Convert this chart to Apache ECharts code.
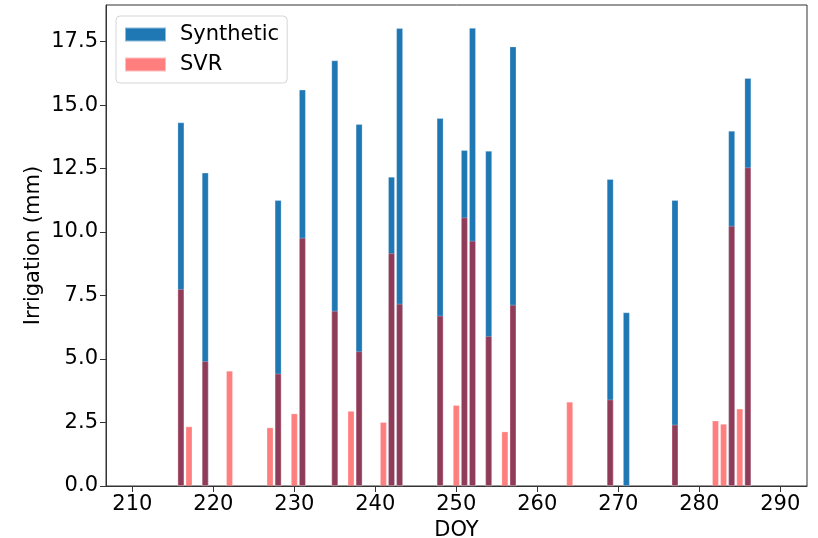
<!DOCTYPE html>
<html>
<head>
<meta charset="utf-8">
<script src="https://cdn.jsdelivr.net/npm/echarts@6/dist/echarts.min.js"></script>
<style>
html, body { margin: 0; padding: 0; background: #fff; }
#main { width: 818px; height: 538px; }
</style>
</head>
<body>
<div id="main"></div>
<script>
// DOY of each bar and its height (mm)
var synDoy = [216, 219, 228, 231, 235, 238, 242, 243, 248, 251, 252, 254, 257, 269, 271, 277, 284, 286];
var synVal = [14.31, 12.33, 11.25, 15.6, 16.75, 14.24, 12.17, 18.02, 14.48, 13.22, 18.03, 13.19, 17.3, 12.08, 6.83, 11.25, 13.98, 16.06];

var svrDoy = [216, 217, 219, 222, 227, 228, 230, 231, 235, 237, 238, 241, 242, 243, 248, 250, 251, 252, 254, 256, 257, 264, 269, 277, 282, 283, 284, 285, 286];
var svrVal = [7.75, 2.34, 4.91, 4.53, 2.3, 4.42, 2.85, 9.77, 6.89, 2.95, 5.3, 2.51, 9.16, 7.17, 6.7, 3.18, 10.57, 9.65, 5.9, 2.14, 7.13, 3.31, 3.4, 2.41, 2.57, 2.44, 10.24, 3.04, 12.54];

var yTicks = [0, 2.5, 5, 7.5, 10, 12.5, 15, 17.5];
var xTicks = [210, 220, 230, 240, 250, 260, 270, 280, 290];

function pairs(xs, ys) {
    var out = [];
    for (var i = 0; i < xs.length; i++) out.push([xs[i], ys[i]]);
    return out;
}

var myChart = echarts.init(document.getElementById('main'));
var font = 'DejaVu Sans';

var option = {
    animation: false,
    textStyle: { fontFamily: font },
    grid: {
        left: 106, right: 11, top: 5, bottom: 52,
        outerBoundsMode: 'none',
        containLabel: false,
        show: true, borderColor: '#333', borderWidth: 1
    },
    legend: {
        left: 116, top: 16,
        orient: 'vertical',
        itemWidth: 41, itemHeight: 14, itemGap: 9,
        padding: [8, 8, 8, 8],
        borderColor: '#d5d5d5', borderWidth: 1, borderRadius: 4,
        backgroundColor: 'rgba(255,255,255,0.8)',
        textStyle: { fontFamily: font, fontSize: 21, color: '#000', padding: [0, 0, 0, 9] },
        data: [
            { name: 'Synthetic', icon: 'rect' },
            { name: 'SVR', icon: 'rect' }
        ]
    },
    xAxis: {
        type: 'value',
        min: 206.75, max: 293.3,
        name: 'DOY', nameLocation: 'middle', nameGap: 26,
        nameTextStyle: { fontFamily: font, fontSize: 21, color: '#000' },
        splitLine: { show: false },
        axisLine: { show: true, onZero: false, lineStyle: { color: '#333', width: 1 } },
        axisTick: {
            show: true, inside: false, length: 6,
            customValues: xTicks,
            lineStyle: { color: '#333' }
        },
        axisLabel: {
            fontFamily: font, fontSize: 21, color: '#000', margin: 8,
            customValues: xTicks
        }
    },
    yAxis: {
        type: 'value',
        min: 0, max: 18.94,
        name: 'Irrigation (mm)', nameLocation: 'middle', nameGap: 62,
        nameMoveOverlap: false,
        nameTextStyle: { fontFamily: font, fontSize: 21, color: '#000' },
        splitLine: { show: false },
        axisLine: { show: true, lineStyle: { color: '#333', width: 1 } },
        axisTick: {
            show: true, length: 6,
            customValues: yTicks,
            lineStyle: { color: '#333' }
        },
        axisLabel: {
            fontFamily: font, fontSize: 21, color: '#000', margin: 8,
            customValues: yTicks,
            formatter: function (v) { return v.toFixed(1); }
        }
    },
    series: [
        {
            name: 'Synthetic',
            type: 'bar',
            barWidth: 6.5,
            barGap: '-100%',
            itemStyle: { color: '#1f77b4', borderColor: 'rgba(255,255,255,0.5)', borderWidth: 0.5 },
            data: pairs(synDoy, synVal)
        },
        {
            name: 'SVR',
            type: 'bar',
            barWidth: 6.5,
            barGap: '-100%',
            itemStyle: { color: 'rgba(255,0,0,0.5)', borderColor: 'rgba(255,255,255,0.5)', borderWidth: 0.5 },
            data: pairs(svrDoy, svrVal)
        }
    ]
};

myChart.setOption(option);
</script>
</body>
</html>
